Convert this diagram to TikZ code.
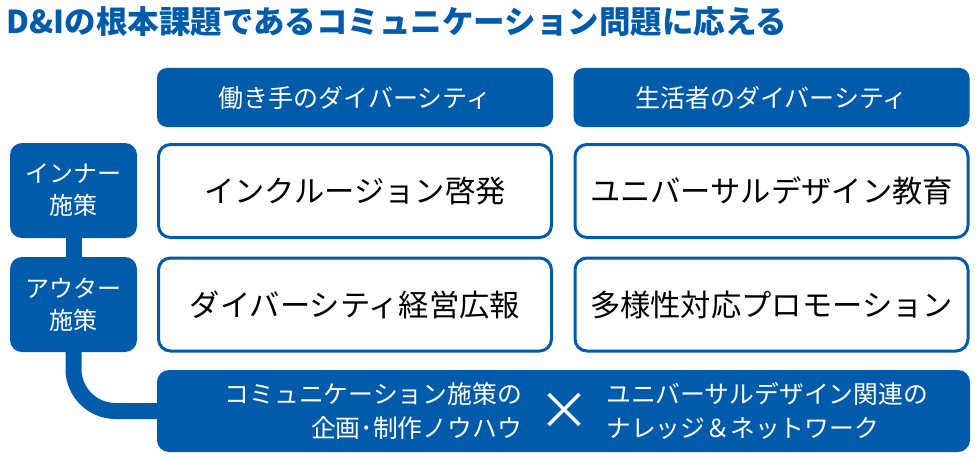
\documentclass[tikz,border=0pt]{standalone}
\usepackage{fontspec}
\setmainfont{Noto Sans CJK JP}
\definecolor{dblue}{RGB}{0,92,170}
\begin{document}
\begin{tikzpicture}[x=1pt,y=-1pt,
  hdrbox/.style={fill=dblue, rounded corners=10pt, minimum width=396pt, minimum height=59pt, text=white, font=\fontsize{25}{30}\selectfont, inner sep=0pt},
  cellbox/.style={draw=dblue, line width=3pt, fill=white, rounded corners=12pt, minimum width=393pt, minimum height=93pt, font=\fontsize{30.3}{34}\selectfont, inner sep=0pt},
  sidebox/.style={fill=dblue, rounded corners=12pt, minimum width=127pt, minimum height=95pt, text=white, align=center, font=\fontsize{24}{32}\selectfont, inner sep=0pt},
  linkbar/.style={draw=dblue, line width=16pt},
  bottomtxt/.style={text=white, font=\fontsize{24.8}{34}\selectfont, inner sep=0pt}
]
\useasboundingbox (0,0) rectangle (980,460);
% title
\node[anchor=west, text=dblue, font=\fontsize{31.5}{36}\selectfont\bfseries, inner sep=0pt] (title) at (6,22) {D\&Iの根本課題であるコミュニケーション問題に応える};
% side boxes
\node[sidebox] (inner) at (73.5,190.5) {インナー\\施策};
\node[sidebox] (outer) at (73.5,304.5) {アウター\\施策};
% bottom box
\node[fill=dblue, rounded corners=12pt, minimum width=813pt, minimum height=82pt, inner sep=0pt] (bottom) at (563.5,411) {};
% connectors
\draw[linkbar] (inner.south) -- (outer.north);
\draw[linkbar, rounded corners=42pt] (outer.south) |- (bottom.west);
% headers
\node[hdrbox] (h1) at (355,97.5) {働き手のダイバーシティ};
\node[hdrbox] (h2) at (771.5,97.5) {生活者のダイバーシティ};
% cells
\node[cellbox] (c11) at (355,191) {インクルージョン啓発};
\node[cellbox] (c12) at (771.5,191) {ユニバーサルデザイン教育};
\node[cellbox] (c21) at (355,304.5) {ダイバーシティ経営広報};
\node[cellbox] (c22) at (771.5,304.5) {多様性対応プロモーション};
% bottom texts
\node[bottomtxt, anchor=east, align=right] (bl) at (522,411) {コミュニケーション施策の\\企画･制作ノウハウ};
\node[text=white, font=\fontsize{52}{52}\selectfont, inner sep=0pt] (times) at (564,411) {×};
\node[bottomtxt, anchor=west, align=left] (br) at (606,411) {ユニバーサルデザイン関連の\\ナレッジ＆ネットワーク};
\end{tikzpicture}
\end{document}
